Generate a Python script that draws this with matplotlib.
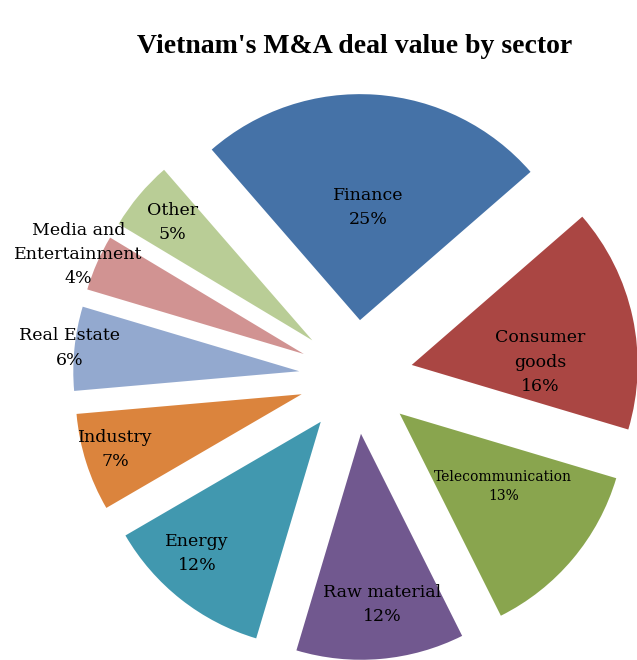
"""Exploded pie: Vietnam's M&A deal value by sector."""
import numpy as np
import matplotlib
matplotlib.use("Agg")
import matplotlib.pyplot as plt

sectors = ["Finance", "Consumer\ngoods", "Telecommunication", "Raw material",
           "Energy", "Industry", "Real Estate", "Media and\nEntertainment", "Other"]
shares = [25, 16, 13, 12, 12, 7, 6, 4, 5]

colors = ["#4572A7", "#AA4643", "#89A54E", "#71588F", "#4198AF",
          "#DB843D", "#93A9CF", "#D19392", "#B9CD96"]

# label placement: fraction of radius out from the wedge tip, and angle nudge
label_frac = [0.50, 0.57, 0.56, 0.76, 0.80, 0.86, 1.02, 1.09, 0.81]
label_turn = [0, -11, 5, 2, -5, -1, 0, 0, 0]

W, H = 637, 660
fig = plt.figure(figsize=(W / 100, H / 100), dpi=100)
ax = fig.add_axes([0, 0, 1, 1])

R = 226
wedges, _ = ax.pie(shares, colors=colors, radius=R, center=(356, 283),
                   explode=[57] * len(shares), startangle=131,
                   counterclock=False, frame=True)
ax.set_xlim(0, W)
ax.set_ylim(0, H)
ax.set_aspect("equal")
ax.set_axis_off()

for w, name, pct, f, dt in zip(wedges, sectors, shares, label_frac, label_turn):
    ang = np.deg2rad((w.theta1 + w.theta2) / 2 + dt)
    cx, cy = w.center
    x = cx + f * R * np.cos(ang)
    y = cy + f * R * np.sin(ang)
    small = name == "Telecommunication"
    ax.text(x, y, f"{name}\n{pct}%", ha="center", va="center",
            family="DejaVu Serif", fontsize=10 if small else 12.5,
            linespacing=1.45 if small else 1.56, color="#000000")

fig.text(0.557, 0.929, "Vietnam's M&A deal value by sector", ha="center",
         va="center", family="Liberation Serif", weight="bold", fontsize=20)

fig.savefig("out.png", dpi=100)
